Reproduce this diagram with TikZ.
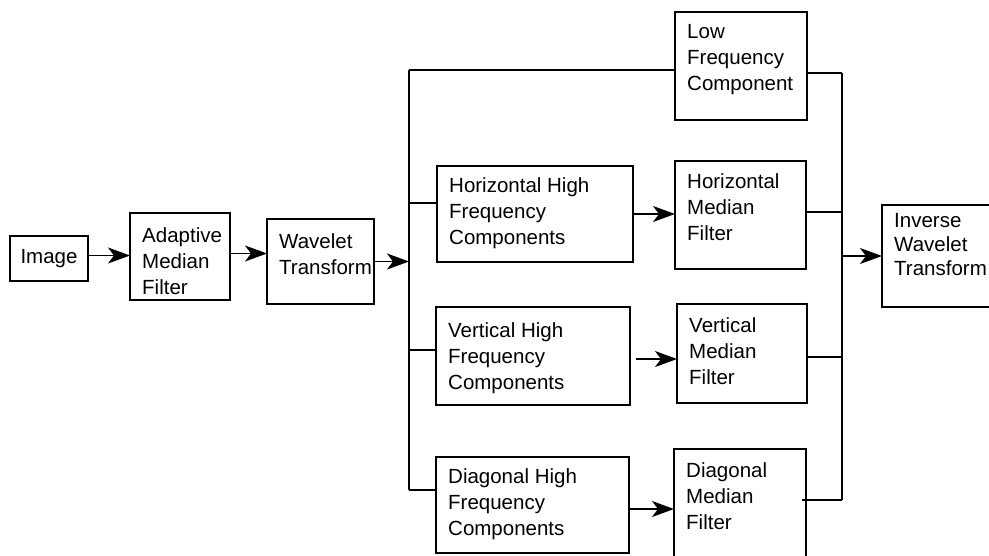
\documentclass[tikz,border=0pt]{standalone}
\usepackage{fontspec}
\setmainfont{Liberation Sans}
\usetikzlibrary{arrows.meta,calc}
\begin{document}
\begin{tikzpicture}[x=1pt,y=-1pt,
  fnt/.style={font=\fontsize{20.5}{26}\selectfont},
  box/.style={draw,line width=1.4pt,anchor=north west,inner sep=0pt,outer sep=0pt},
  txt/.style={fnt,anchor=north west,align=left,inner xsep=12pt,inner ysep=11pt},
  ln/.style={line width=1.4pt},
  arr/.style={ln,-{Stealth[length=22pt,width=16pt,inset=6pt]}}]
\clip (0,0) rectangle (989,555);
% boxes
\node[box,fnt,minimum width=78pt,minimum height=45pt] (img) at (10,236) {Image};
\node[box,minimum width=100pt,minimum height=87pt] (amf) at (130,213) {};
\node[txt,inner ysep=14pt] (amfT) at (amf.north west) {Adaptive\\Median\\Filter};
\node[box,minimum width=107pt,minimum height=85pt] (wt) at (267,219) {};
\node[txt,inner ysep=14pt] (wtT) at (wt.north west) {Wavelet\\Transform};
\node[box,minimum width=132pt,minimum height=108pt] (low) at (675,12) {};
\node[txt,inner ysep=12pt] (lowT) at (low.north west) {Low\\Frequency\\Component};
\node[box,minimum width=196pt,minimum height=96pt] (hhf) at (437,166) {};
\node[txt,inner ysep=11pt] (hhfT) at (hhf.north west) {Horizontal High\\Frequency\\Components};
\node[box,minimum width=131pt,minimum height=108pt] (hmf) at (675,161) {};
\node[txt,inner ysep=12pt] (hmfT) at (hmf.north west) {Horizontal\\Median\\Filter};
\node[box,minimum width=194pt,minimum height=98pt] (vhf) at (436,307) {};
\node[txt,inner ysep=15pt] (vhfT) at (vhf.north west) {Vertical High\\Frequency\\Components};
\node[box,minimum width=130pt,minimum height=99pt] (vmf) at (677,304) {};
\node[txt,inner ysep=13pt] (vmfT) at (vmf.north west) {Vertical\\Median\\Filter};
\node[box,minimum width=193pt,minimum height=96pt] (dhf) at (436,457) {};
\node[txt,inner ysep=11pt] (dhfT) at (dhf.north west) {Diagonal High\\Frequency\\Components};
\node[box,minimum width=132pt,minimum height=120pt] (dmf) at (674,449) {};
\node[txt,inner ysep=13pt] (dmfT) at (dmf.north west) {Diagonal\\Median\\Filter};
\node[box,minimum width=120pt,minimum height=102pt] (inv) at (882,205) {};
\node[txt,inner ysep=8pt,font=\fontsize{20.5}{24}\selectfont] (invT) at (inv.north west) {Inverse\\Wavelet\\Transform};
% left bus
\coordinate (bT) at (409,70);
\coordinate (bH) at (409,203);
\coordinate (bV) at (409,350);
\coordinate (bD) at (409,490);
\draw[ln] (bT) -- (bD);
\draw[ln] (bT) -- (bT -| low.west);
\draw[ln] (bH) -- (bH -| hhf.west);
\draw[ln] (bV) -- (bV -| vhf.west);
\draw[ln] (bD) -- (bD -| dhf.west);
% main chain
\draw[arr] ([yshift=3pt]img.east) -- ([yshift=3pt]img.east -| amf.west);
\draw[arr] ([yshift=3pt]amf.east) -- ([yshift=3pt]amf.east -| wt.west);
\draw[arr] (wt.east) -- (wt.east -| bT);
% branch arrows
\draw[arr] (hhf.east) -- (hhf.east -| hmf.west);
\draw[arr,shorten <=6pt] ([yshift=-3pt]vhf.east) -- ([yshift=-3pt]vhf.east -| vmf.west);
\draw[arr] ([yshift=-4pt]dhf.east) -- ([yshift=-4pt]dhf.east -| dmf.west);
% right bus
\coordinate (rT) at (842,73);
\coordinate (rB) at (842,500);
\coordinate (rW) at (842,256);
\draw[ln] (rT) -- (rB);
\draw[ln] ([yshift=-7pt]low.east) -- ([yshift=-7pt]low.east -| rT);
\draw[ln] ([yshift=3pt]hmf.east) -- ([yshift=3pt]hmf.east -| rT);
\draw[ln] ([yshift=-3.5pt]vmf.east) -- ([yshift=-3.5pt]vmf.east -| rT);
\draw[ln] ([xshift=-4pt]dmf.east |- rB) -- (rB);
\draw[arr] (rW) -- (rW -| inv.west);
\end{tikzpicture}
\end{document}
